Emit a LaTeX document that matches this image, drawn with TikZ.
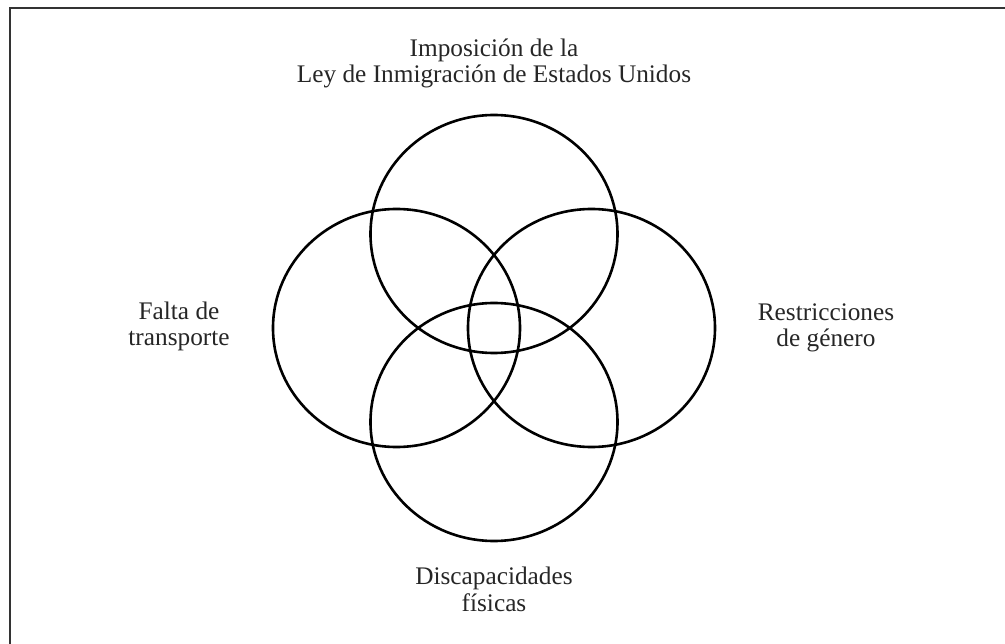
\documentclass[tikz,border=0pt]{standalone}
\usepackage{fontspec}
\setmainfont{Liberation Serif}
\usetikzlibrary{shapes.geometric}
\begin{document}
\begin{tikzpicture}[x=1pt,y=-1pt,
  ring/.style={draw=black, ellipse, line width=2.6pt, minimum width=247pt, minimum height=238pt, inner sep=0pt},
  lbl/.style={align=center, font=\fontsize{25.3}{26.5}\selectfont, text=black!85, inner sep=0pt, anchor=base}]
\useasboundingbox (0,0) rectangle (1005,644);
\coordinate (fb) at (10,644);
\coordinate (fc) at (10,8);
\coordinate (fr) at (1005,8);
\draw[line width=1.7pt, draw=black!80] (fb) -- (fc) -- (fr);
\node[ring] (ctop) at (494,234) {};
\node[ring] (cbot) at (494,422) {};
\node[ring] (cleft) at (396.5,328) {};
\node[ring] (cright) at (591.5,328) {};
\node[lbl] (ttop) at (494,83) {Imposición de la\\Ley de Inmigración de Estados Unidos};
\node[lbl] (tleft) at (179,346) {Falta de\\transporte};
\node[lbl] (tright) at (826,347) {Restricciones\\de género};
\node[lbl] (tbot) at (494,611) {Discapacidades\\físicas};
\end{tikzpicture}
\end{document}
